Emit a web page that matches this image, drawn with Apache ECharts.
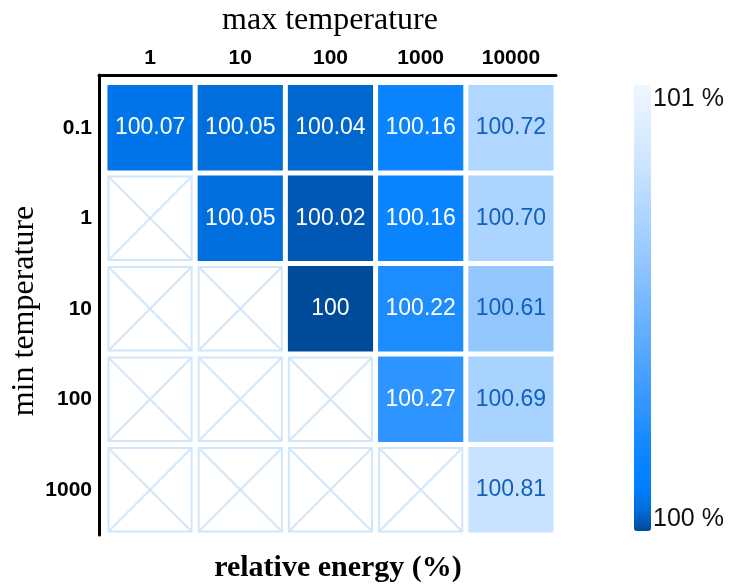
<!DOCTYPE html>
<html>
<head>
<meta charset="utf-8">
<script src="https://cdn.jsdelivr.net/npm/echarts@6/dist/echarts.min.js"></script>
<style>
  html, body { margin: 0; padding: 0; background: #fff; }
  #chart { width: 729px; height: 587px; }
</style>
</head>
<body>
<div id="chart"></div>
<script>
// Column categories (max temperature) and row categories (min temperature)
const maxTemps = ['1', '10', '100', '1000', '10000'];
const minTemps = ['0.1', '1', '10', '100', '1000'];

// Relative energy (%) per row of min temperature; null = combination not run
const row01   = [100.07, 100.05, 100.04, 100.16, 100.72];
const row1    = [null,   100.05, 100.02, 100.16, 100.70];
const row10   = [null,   null,   100,    100.22, 100.61];
const row100  = [null,   null,   null,   100.27, 100.69];
const row1000 = [null,   null,   null,   null,   100.81];
const energyRows = [row01, row1, row10, row100, row1000];

// Colour bar range
const scaleMin = 100;
const scaleMax = 101;
const scaleLabels = ['101 %', '100 %'];

const filled = [];
const crossed = [];
energyRows.forEach((row, r) => {
  row.forEach((v, c) => {
    if (v === null) crossed.push([c, r]);
    else filled.push([c, r, v]);
  });
});

const fmt = v => (v === 100 ? '100' : v.toFixed(2));

const chart = echarts.init(document.getElementById('chart'));

chart.setOption({
  animation: false,
  backgroundColor: '#fff',
  title: {
    text: 'relative energy (%)',
    left: 333,
    textAlign: 'center',
    top: 548,
    textStyle: {
      fontFamily: 'Liberation Serif',
      fontWeight: 'bold',
      fontSize: 30,
      color: '#000'
    }
  },
  grid: { left: 99, right: 173, top: 75, bottom: 52, containLabel: false, outerBoundsMode: 'none' },
  xAxis: {
    type: 'value',
    position: 'top',
    min: -0.566,
    max: 4.5,
    name: 'max temperature',
    nameLocation: 'middle',
    nameGap: 38,
    nameMoveOverlap: false,
    nameTextStyle: {
      fontFamily: 'Liberation Serif', fontSize: 32, color: '#000',
      padding: [0, 0, 0, 5]
    },
    axisLine: { show: true, onZero: false, lineStyle: { color: '#000', width: 3 } },
    axisTick: { show: false },
    splitLine: { show: false },
    axisLabel: {
      customValues: [0, 1, 2, 3, 4],
      formatter: v => maxTemps[Math.round(v)],
      fontFamily: 'Liberation Sans',
      fontWeight: 'bold',
      fontSize: 21,
      color: '#000',
      margin: 6
    }
  },
  yAxis: {
    type: 'value',
    inverse: true,
    min: -0.583,
    max: 4.5,
    name: 'min temperature',
    nameLocation: 'middle',
    nameRotate: 90,
    nameGap: 58,
    nameMoveOverlap: false,
    nameTextStyle: {
      fontFamily: 'Liberation Serif', fontSize: 32, color: '#000',
      padding: [0, 12, 0, 0]
    },
    axisLine: { show: true, onZero: false, lineStyle: { color: '#000', width: 3 } },
    axisTick: { show: false },
    splitLine: { show: false },
    axisLabel: {
      customValues: [0, 1, 2, 3, 4],
      formatter: v => minTemps[Math.round(v)],
      fontFamily: 'Liberation Sans',
      fontWeight: 'bold',
      fontSize: 21,
      color: '#000',
      margin: 7
    }
  },
  visualMap: {
    type: 'continuous',
    min: scaleMin,
    max: scaleMax,
    seriesIndex: 0,
    dimension: 2,
    left: 634,
    top: 85,
    padding: 0,
    itemWidth: 17,
    itemHeight: 446,
    calculable: false,
    inRange: {
      color: ['#004a9a', '#006edc', '#0080ff', '#0884ff', '#1489ff', '#2891ff', '#3799ff',
              '#46a0ff', '#55a8ff', '#64afff', '#73b6ff', '#82bdff', '#92c6ff', '#9fcdff',
              '#acd4ff', '#b8daff', '#c6e1ff', '#d2e8ff', '#dcedff', '#e6f2ff', '#f0f8ff']
    }
  },
  graphic: [
    {
      type: 'text', left: 653, top: 87,
      style: { text: scaleLabels[0], font: '25px "Liberation Sans"', fill: '#111' }
    },
    {
      type: 'text', left: 653, top: 507,
      style: { text: scaleLabels[1], font: '25px "Liberation Sans"', fill: '#111' }
    }
  ],
  series: [
    {
      type: 'custom',
      data: filled,
      encode: { x: 0, y: 1 },
      renderItem: (params, api) => {
        const c = api.coord([api.value(0), api.value(1)]);
        const s = api.size([1, 1]);
        const w = Math.abs(s[0]) - 5;
        const h = Math.abs(s[1]) - 5;
        const v = api.value(2);
        return {
          type: 'rect',
          shape: { x: c[0] - w / 2, y: c[1] - h / 2, width: w, height: h },
          style: { fill: api.visual('color') },
          textContent: {
            style: {
              text: fmt(v),
              fill: v > 100.5 ? '#0f60c0' : '#fff',
              font: '23px "Liberation Sans"'
            }
          },
          textConfig: { position: 'inside' }
        };
      }
    },
    {
      type: 'custom',
      data: crossed,
      encode: { x: 0, y: 1 },
      renderItem: (params, api) => {
        const c = api.coord([api.value(0), api.value(1)]);
        const s = api.size([1, 1]);
        const w = Math.abs(s[0]) - 7;
        const h = Math.abs(s[1]) - 7;
        const x0 = c[0] - w / 2, y0 = c[1] - h / 2;
        const stroke = { stroke: '#d2e6fa', lineWidth: 2, fill: 'none' };
        return {
          type: 'group',
          children: [
            { type: 'rect', shape: { x: x0, y: y0, width: w, height: h }, style: { fill: '#fff', stroke: '#d2e6fa', lineWidth: 2 } },
            { type: 'line', shape: { x1: x0, y1: y0, x2: x0 + w, y2: y0 + h }, style: stroke },
            { type: 'line', shape: { x1: x0 + w, y1: y0, x2: x0, y2: y0 + h }, style: stroke }
          ]
        };
      }
    }
  ]
});
</script>
</body>
</html>
